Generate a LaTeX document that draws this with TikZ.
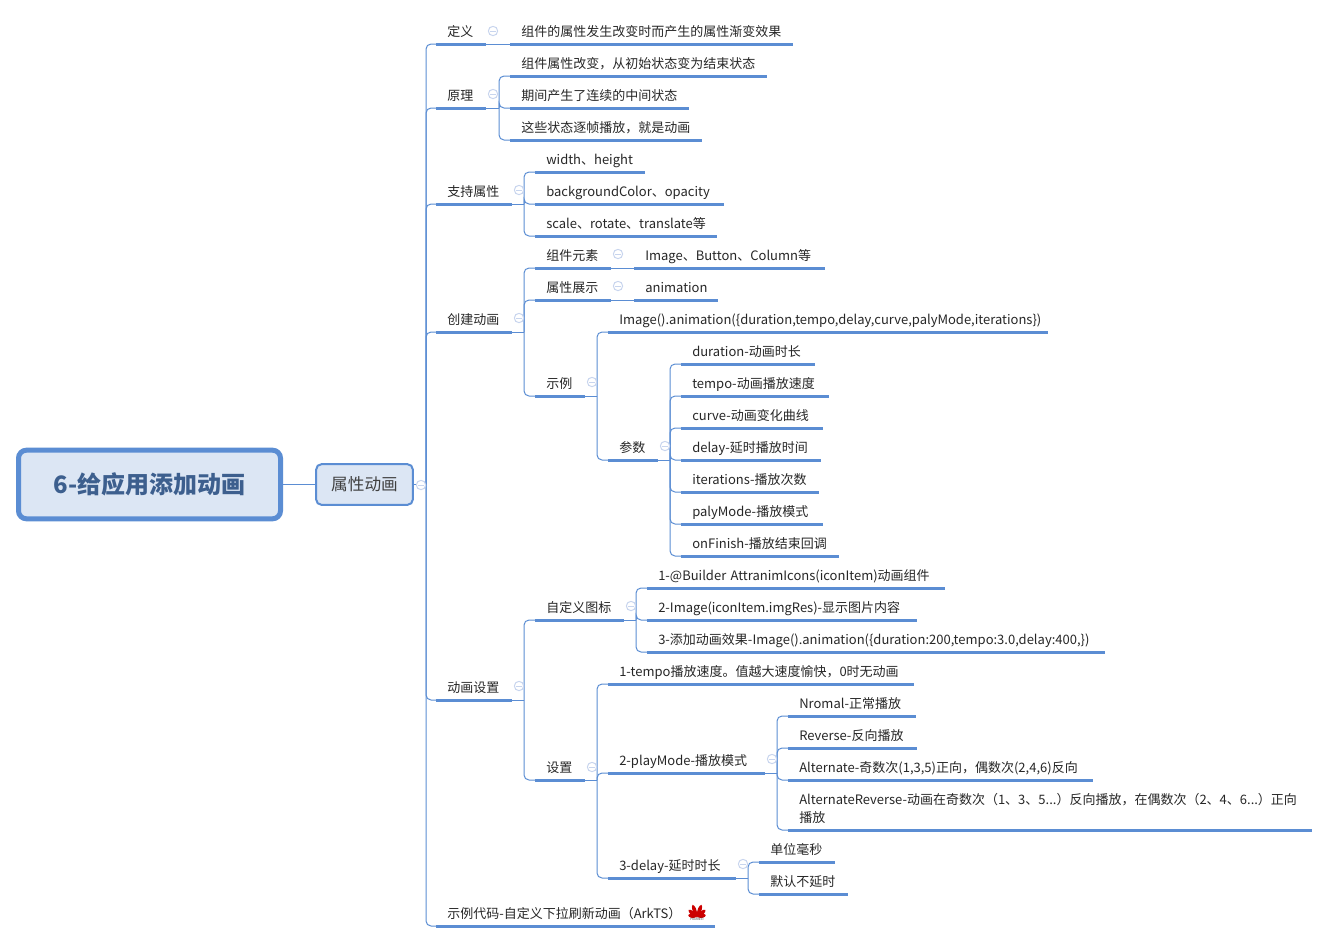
\documentclass[tikz,border=0pt]{standalone}
\usepackage{fontspec}
\setmainfont{Noto Sans CJK SC}
\usetikzlibrary{positioning}
\definecolor{mapblue}{HTML}{5B8DD3}
\definecolor{mapfill}{HTML}{DCE6F4}
\definecolor{maptitle}{HTML}{3D5F8E}
\definecolor{mapfold}{HTML}{C8D5EE}

\begin{document}
\begin{tikzpicture}[
    x=0.75pt,
    y=-0.75pt,
    topic/.style={rectangle,anchor=south west,inner xsep=8.25pt,inner ysep=3.35pt,
      text width=(#1-22)*0.75pt,align=left,text height=8.2pt,text depth=2.4pt,
      font=\fontsize{9.75}{13.5}\selectfont,text=black!85},
    under/.style={draw=mapblue,line width=2.25pt},
    branch/.style={draw=mapblue,line width=0.75pt,rounded corners=3.75pt},
    stem/.style={draw=mapblue,line width=0.75pt},
    fold/.style={circle,draw=mapfold,line width=0.75pt,fill=white,minimum size=7pt,inner sep=0pt,
      path picture={\draw[mapfold,line width=0.75pt] (path picture bounding box.west) ++(1.5pt,0) -- ++(4pt,0);}},
    root node/.style={rectangle,rounded corners=6pt,draw=mapblue,fill=mapfill,line width=3.75pt,
      minimum width=196.5pt,minimum height=51.5pt,font=\fontsize{18}{22}\bfseries\selectfont,text=maptitle},
    main node/.style={rectangle,rounded corners=4pt,draw=mapblue,fill=mapfill,line width=1.5pt,
      minimum width=72.5pt,minimum height=30.5pt,font=\fontsize{12.5}{15}\selectfont,text=black!75}
]
\useasboundingbox (0,0) rectangle (1329,943);

\node[root node] (root) at (149.5,484.5) {6-给应用添加动画};
\node[main node] (main) at (364.5,484.5) {属性动画};
\draw[stem] (root) -- (main);

% first level
\node[topic=49] (def) at (436,44) {定义};
\node[topic=49] (prin) at (436,108) {原理};
\node[topic=75] (attr) at (436,204) {支持属性};
\node[topic=75] (create) at (436,332) {创建动画};
\node[topic=75] (setup) at (436,700) {动画设置};
\node[topic=278] (code) at (436,926) {示例代码-自定义下拉刷新动画（ArkTS）};

% definition, principle
\node[topic=282] (defa) at (510,44) {组件的属性发生改变时而产生的属性渐变效果};
\node[topic=256] (prina) at (510,76) {组件属性改变，从初始状态变为结束状态};
\node[topic=178] (prinb) at (510,108) {期间产生了连续的中间状态};
\node[topic=191] (princ) at (510,140) {这些状态逐帧播放，就是动画};

% supported attributes
\node[topic=109] (attra) at (535,172) {width、height};
\node[topic=188] (attrb) at (535,204) {backgroundColor、opacity};
\node[topic=181] (attrc) at (535,236) {scale、rotate、translate等};

% create animation
\node[topic=75] (elem) at (535,268) {组件元素};
\node[topic=190] (elema) at (634,268) {Image、Button、Column等};
\node[topic=75] (show) at (535,300) {属性展示};
\node[topic=83] (showa) at (634,300) {animation};
\node[topic=49] (demo) at (535,396) {示例};
\node[topic=439] (demoa) at (608,332) {Image().animation(\{duration,tempo,delay,curve,palyMode,iterations\})};
\node[topic=49] (param) at (608,460) {参数};
\node[topic=133] (parama) at (681,364) {duration-动画时长};
\node[topic=147] (paramb) at (681,396) {tempo-动画播放速度};
\node[topic=141] (paramc) at (681,428) {curve-动画变化曲线};
\node[topic=139] (paramd) at (681,460) {delay-延时播放时间};
\node[topic=137] (parame) at (681,492) {iterations-播放次数};
\node[topic=141] (paramf) at (681,524) {palyMode-播放模式};
\node[topic=157] (paramg) at (681,556) {onFinish-播放结束回调};

% animation settings
\node[topic=88] (icon) at (535,620) {自定义图标};
\node[topic=297] (icona) at (647,588) {1-@Builder AttranimIcons(iconItem)动画组件};
\node[topic=269] (iconb) at (647,620) {2-Image(iconItem.imgRes)-显示图片内容};
\node[topic=457] (iconc) at (647,652) {3-添加动画效果-Image().animation(\{duration:200,tempo:3.0,delay:400,\})};
\node[topic=49] (conf) at (535,780) {设置};
\node[topic=305] (confa) at (608,684) {1-tempo播放速度。值越大速度愉快，0时无动画};
\node[topic=156] (confb) at (608,773) {2-playMode-播放模式};
\node[topic=127] (confc) at (608,878) {3-delay-延时时长};
\node[topic=127] (modea) at (788,716) {Nromal-正常播放};
\node[topic=128] (modeb) at (788,748) {Reverse-反向播放};
\node[topic=304] (modec) at (788,780) {Alternate-奇数次(1,3,5)正向，偶数次(2,4,6)反向};
\node[topic=523,text depth=15.9pt] (moded) at (788,830) {AlternateReverse-动画在奇数次（1、3、5...）反向播放，在偶数次（2、4、6...）正向\\播放};
\node[topic=75] (delaya) at (759,862) {单位毫秒};
\node[topic=88] (delayb) at (759,894) {默认不延时};

% underlines
\foreach \n in {def,prin,attr,create,setup,code,defa,prina,prinb,princ,attra,attrb,attrc,
    elem,elema,show,showa,demo,demoa,param,parama,paramb,paramc,paramd,parame,paramf,paramg,
    icon,icona,iconb,iconc,conf,confa,confb,confc,modea,modeb,modec,moded,delaya,delayb}
  \draw[under] (\n.south west) -- (\n.south east);

% connectors
\foreach \c in {def,prin,attr,create,setup,code} {
  \draw[branch] (\c.south west) -- ++(-10,0) coordinate (s) -- (s |- main.east);
  \draw[stem] (s |- main.east) -- (main.east);
}
\foreach \p/\c in {prin/prina,prin/prinb,prin/princ,attr/attra,attr/attrb,attr/attrc,
    create/elem,create/show,create/demo,demo/demoa,demo/param,
    param/parama,param/paramb,param/paramc,param/paramd,param/parame,param/paramf,param/paramg,
    setup/icon,setup/conf,icon/icona,icon/iconb,icon/iconc,conf/confa,conf/confb,conf/confc,
    confb/modea,confb/modeb,confb/modec,confb/moded,confc/delaya,confc/delayb} {
  \draw[branch] (\c.south west) -- ++(-11,0) coordinate (s) -- (s |- \p.south east);
  \draw[stem] (s |- \p.south east) -- (\p.south east);
}
\draw[stem] (def.south east) -- (defa.south west);
\draw[stem] (elem.south east) -- (elema.south west);
\draw[stem] (show.south east) -- (showa.south west);

% fold marks
\node[fold] (fmain) at (421,485) {};
\node[fold] (fdef) at (493,31) {};
\node[fold] (fprin) at (493,94) {};
\node[fold] (fattr) at (519,190) {};
\node[fold] (fcreate) at (519,318) {};
\node[fold] (felem) at (618,254) {};
\node[fold] (fshow) at (618,286) {};
\node[fold] (fdemo) at (592,382) {};
\node[fold] (fparam) at (665,446) {};
\node[fold] (fsetup) at (519,686) {};
\node[fold] (ficon) at (631,606) {};
\node[fold] (fconf) at (592,767) {};
\node[fold] (fconfb) at (772,759) {};
\node[fold] (fconfc) at (743,864) {};

% logo
\foreach \a/\l in {-78/9,-50/11,-20/13,20/13,50/11,78/9}
  \fill[red!80!black,rotate around={\a:(697,917)}] (697,917) .. controls (693.8,{917-.5*\l}) and (695,{917-.9*\l}) .. (697,{917-\l}) .. controls (699,{917-.9*\l}) and (700.2,{917-.5*\l}) .. (697,917);
\node[inner sep=0pt,font=\fontsize{2.6}{3}\selectfont,text=black!70] (logo) at (697,919.5) {HUAWEI};

\end{tikzpicture}
\end{document}
